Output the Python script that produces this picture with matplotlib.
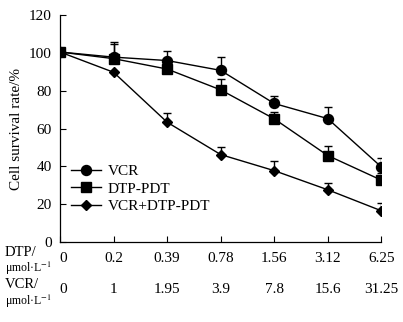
import matplotlib.pyplot as plt
from matplotlib.lines import Line2D
import numpy as np

# concentrations (tick labels)
dtp_conc = ['0', '0.2', '0.39', '0.78', '1.56', '3.12', '6.25']
vcr_conc = ['0', '1', '1.95', '3.9', '7.8', '15.6', '31.25']

# survival rate (%) and upper error
vcr_mean = [100.5, 97.8, 96.0, 90.8, 73.3, 65.3, 39.8]
vcr_err = [0, 8.2, 5.0, 7.0, 3.7, 6.0, 4.6]
dtp_mean = [100.5, 97.0, 91.5, 80.5, 65.2, 45.8, 32.8]
dtp_err = [0, 8.0, 3.0, 5.5, 3.8, 5.2, 3.7]
combo_mean = [100.5, 89.8, 63.4, 46.3, 37.8, 27.7, 16.6]
combo_err = [0, 0, 4.8, 3.8, 5.2, 3.4, 4.0]

plt.rcParams['font.family'] = ['Liberation Serif', 'DejaVu Serif']
plt.rcParams['mathtext.fontset'] = 'stix'

fig = plt.figure(figsize=(4.03, 3.22), dpi=100)
ax = fig.add_axes([0.149, 0.248, 0.797, 0.705])

x = np.arange(len(dtp_conc))
series = [
    ('VCR', vcr_mean, vcr_err, 'o', 7.2),
    ('DTP-PDT', dtp_mean, dtp_err, 's', 6.6),
    ('VCR+DTP-PDT', combo_mean, combo_err, 'D', 5.2),
]
handles = []
for name, mean, err, mk, ms in series:
    lower = np.zeros(len(err))
    ax.errorbar(x, mean, yerr=[lower, err], color='black', marker=mk,
                markersize=ms, linewidth=1.0, elinewidth=1.0, capsize=3,
                capthick=1.0)
    handles.append(Line2D([], [], color='black', marker=mk, markersize=ms,
                          linewidth=1.0, label=name))

ax.set_xlim(0, 6)
ax.set_ylim(0, 120)
ax.set_yticks(range(0, 121, 20))
ax.set_xticks(x)
ax.set_xticklabels([])
ax.tick_params(axis='both', direction='in', length=4, width=0.8, labelsize=11)
ax.tick_params(axis='y', pad=6)
for side in ['top', 'right']:
    ax.spines[side].set_visible(False)
for side in ['left', 'bottom']:
    ax.spines[side].set_linewidth(0.9)

ax.set_ylabel('Cell survival rate/%', fontsize=11, labelpad=4)

trans = ax.get_xaxis_transform()
for i in range(len(x)):
    dx = 0.05 if i == 0 else 0
    ax.text(x[i] + dx, -0.07, dtp_conc[i], transform=trans, ha='center', va='center', fontsize=11)
    ax.text(x[i] + dx, -0.21, vcr_conc[i], transform=trans, ha='center', va='center', fontsize=11)

fig.text(5 / 403, 1 - 252 / 322, 'DTP/', fontsize=10.5, va='center', ha='left')
fig.text(5 / 403, 1 - 268 / 322, r'μmol·L$^{-1}$', fontsize=8.5, va='center', ha='left')
fig.text(5 / 403, 1 - 285 / 322, 'VCR/', fontsize=10.5, va='center', ha='left')
fig.text(5 / 403, 1 - 301 / 322, r'μmol·L$^{-1}$', fontsize=8.5, va='center', ha='left')

ax.legend(handles=handles, loc='lower left', bbox_to_anchor=(0.0, 0.08), frameon=False,
          fontsize=11, handlelength=2.0, handletextpad=0.4, labelspacing=0.25,
          borderaxespad=0.3)

fig.savefig('out.png', dpi=100)
